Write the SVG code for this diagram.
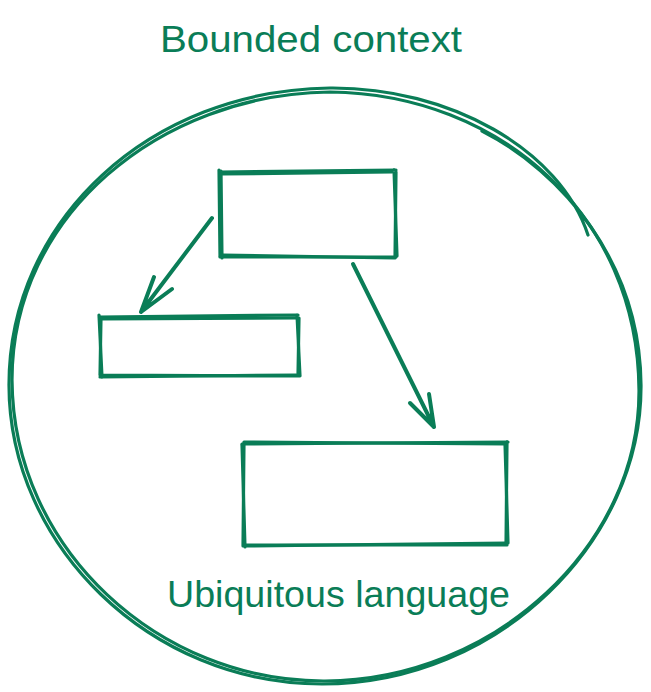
<svg xmlns="http://www.w3.org/2000/svg" width="651" height="692" viewBox="0 0 651 692">
<style>
.s{fill:none;stroke:#0a7d57;stroke-width:3.2;stroke-linecap:round;stroke-linejoin:round}
.a{fill:none;stroke:#0a7d57;stroke-width:4;stroke-linecap:round;stroke-linejoin:round}
.t{fill:#0a7d57;font-family:"Liberation Sans",Arial,sans-serif;font-size:37px}
</style>
<rect width="651" height="692" fill="#ffffff"/>
<g id="context">
<path class="s" d="M482 131 C562 172 640 262 641 385 C642 540 500 684 322 684 C150 684 9 545 9 385 C9 220 150 90 330 88 C450 87 560 150 588 235"/>
<path class="s" d="M330 92 C500 94 638 215 639 390 C640 545 495 680 325 681 C160 682 13 550 12 380 C12 215 160 94 330 92"/>
</g>
<g id="label-bounded"><text class="t" x="160" y="52" textLength="302" lengthAdjust="spacingAndGlyphs">Bounded context</text></g>
<g id="label-ubiquitous"><text class="t" x="167" y="607" textLength="343" lengthAdjust="spacingAndGlyphs">Ubiquitous language</text></g>
<g id="box-top">
<path class="s" d="M220 172 L396 170 M221 171 L222 258 M220 257 L396 257 M394 170 L397 256"/>
<path class="s" d="M222 174 L392 172 M219 170 L220 256 M223 255 L394 258 M396 172 L395 258"/>
</g>
<g id="box-left">
<path class="s" d="M99 317 L298 315 M99 315 L102 377 M101 375 L298 376 M297 315 L300 376"/>
<path class="s" d="M102 319 L296 318 M101 318 L100 375 M100 377 L296 375 M299 318 L298 374"/>
</g>
<g id="box-bottom">
<path class="s" d="M242 444 L508 442 M244 443 L243 546 M243 545 L507 545 M507 442 L506 545"/>
<path class="s" d="M244 442 L505 444 M242 445 L245 547 M245 546 L506 543 M505 444 L508 543"/>
</g>
<g id="connectors">
<path class="a" d="M212 218 L141 312 M154 277 L141 312 L172 289"/>
<path class="a" d="M353 264 L434 427 M429 394 L434 427 L410 403"/>
</g>
</svg>
